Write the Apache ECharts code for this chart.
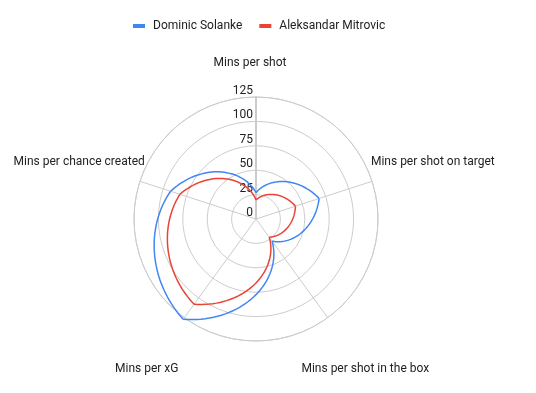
<!DOCTYPE html>
<html><head><meta charset="utf-8">
<script src="https://cdn.jsdelivr.net/npm/echarts@6/dist/echarts.min.js"></script>
<style>html,body{margin:0;padding:0;background:#fff}#c{width:536px;height:393px}</style>
</head><body><div id="c"></div>
<script>
const categories = ['Mins per shot', 'Mins per shot on target', 'Mins per shot in the box', 'Mins per xG', 'Mins per chance created'];
const seriesNames = ['Dominic Solanke', 'Aleksandar Mitrovic'];
const solanke = [27, 68, 28, 127, 92];
const mitrovic = [19.5, 42.5, 23, 108, 82];
const radiusTicks = [0, 25, 50, 75, 100, 125];
const colors = ['#4285f4', '#ea4335'];

const chart = echarts.init(document.getElementById('c'));
function spiral(values) {
  return function (params, api) {
    const i = params.dataIndex;
    const n = values.length;
    const v0 = values[i], v1 = values[(i + 1) % n];
    const pts = [];
    const steps = 40;
    for (let s = 0; s <= steps; s++) {
      const t = s / steps;
      pts.push(api.coord([v0 + (v1 - v0) * t, i + t]));
    }
    return {
      type: 'polyline',
      shape: { points: pts },
      style: { stroke: api.visual('color'), fill: null, lineWidth: 1.5, lineJoin: 'round' }
    };
  };
}
function nameLabel(params, api) {
  const i = params.dataIndex;
  const rv = i === 0 ? 160 : 190.5;
  const p = api.coord([rv, i]);
  return {
    type: 'text',
    x: p[0] - (i === 0 ? 6 : 0), y: p[1],
    style: { text: categories[i], fill: '#222', font: '12px Roboto', align: 'center', verticalAlign: 'middle' }
  };
}
chart.setOption({
  animation: false,
  textStyle: { fontFamily: 'Roboto' },
  legend: {
    top: 15, left: 128, itemWidth: 12, itemHeight: 4, itemGap: 17, icon: 'rect',
    textStyle: { fontSize: 12, color: '#222', fontFamily: 'Roboto', padding: [0, 0, 0, 3] },
    data: seriesNames
  },
  polar: { center: [256, 219], radius: 122 },
  angleAxis: {
    type: 'value', min: 0, max: categories.length, interval: 1, startAngle: 90, clockwise: true,
    axisLine: { show: true, lineStyle: { color: '#cccccc', width: 1 } },
    axisTick: { show: false },
    splitLine: { show: true, lineStyle: { color: '#cccccc', width: 1 } },
    axisLabel: { show: false }
  },
  radiusAxis: {
    type: 'value', min: radiusTicks[0], max: radiusTicks[radiusTicks.length - 1], interval: 25,
    axisLine: { show: true, lineStyle: { color: '#cccccc', width: 2 } },
    axisTick: { show: false },
    splitLine: { show: true, lineStyle: { color: '#cccccc', width: 1 } },
    axisLabel: { color: '#222', fontSize: 12, margin: 3, verticalAlign: 'bottom' },
    z: 1
  },
  series: [
    { type: 'custom', name: seriesNames[0], coordinateSystem: 'polar', data: solanke, renderItem: spiral(solanke), color: colors[0], z: 3 },
    { type: 'custom', name: seriesNames[1], coordinateSystem: 'polar', data: mitrovic, renderItem: spiral(mitrovic), color: colors[1], z: 4 },
    { type: 'custom', name: 'labels', coordinateSystem: 'polar', clip: false, silent: true, data: categories.map(function (c, i) { return i; }), renderItem: nameLabel, z: 2 }
  ]
});
</script></body></html>
